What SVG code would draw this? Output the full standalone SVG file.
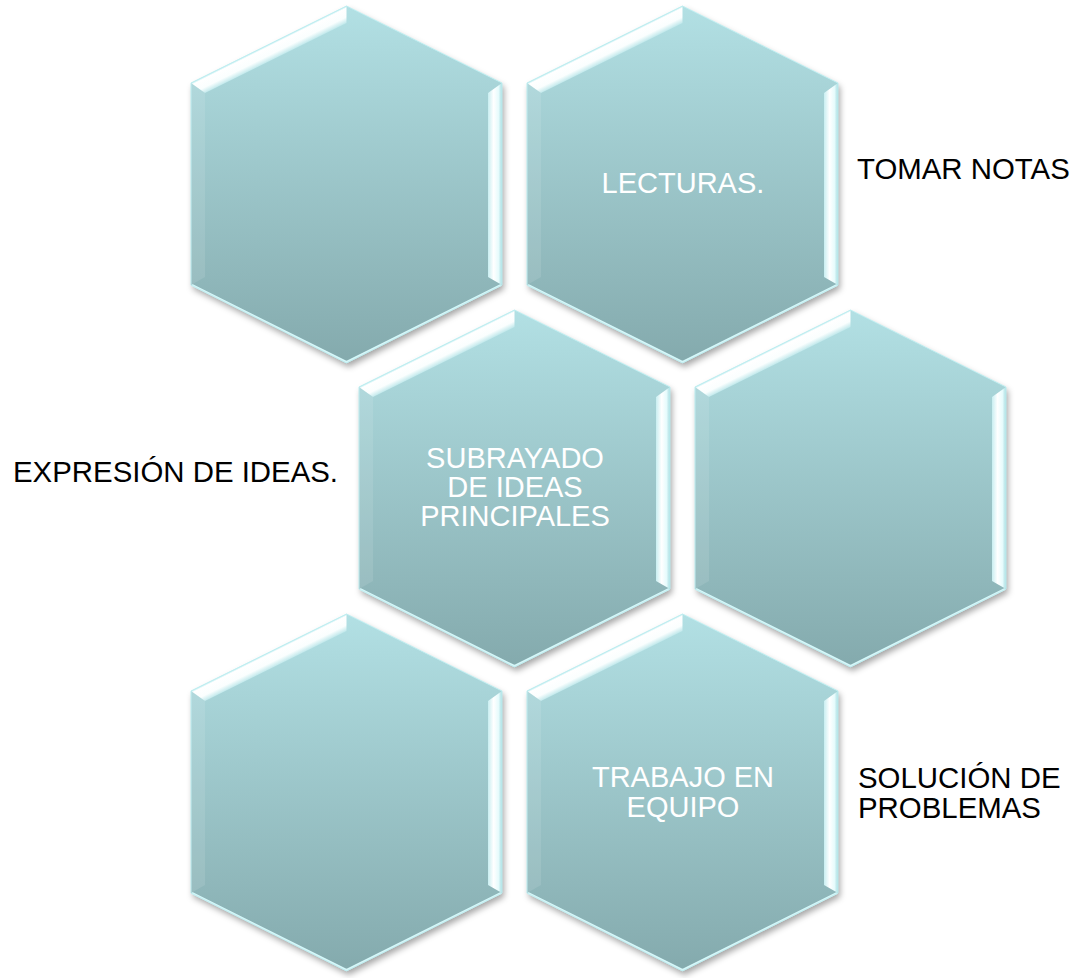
<svg xmlns="http://www.w3.org/2000/svg" xmlns:xlink="http://www.w3.org/1999/xlink" width="1077" height="978" viewBox="0 0 1077 978">
<defs>
<style>
.in{font-family:"Liberation Sans",Arial,sans-serif;font-size:29px;fill:#ffffff;text-anchor:middle}
.out{font-family:"Liberation Sans",Arial,sans-serif;font-size:29.4px;fill:#000000}
</style>
<linearGradient id="fillG" x1="0" y1="0" x2="0" y2="1">
<stop offset="0" stop-color="#b2e0e4"/>
<stop offset="1" stop-color="#84aaad"/>
</linearGradient>
<linearGradient id="tlG" gradientUnits="userSpaceOnUse" x1="-77.75" y1="38.5" x2="-71" y2="52.1">
<stop offset="0" stop-color="#bfeef1"/>
<stop offset="0.12" stop-color="#ffffff"/>
<stop offset="0.65" stop-color="#fafefe"/>
<stop offset="1" stop-color="#c2e9ec"/>
</linearGradient>
<linearGradient id="rG" gradientUnits="userSpaceOnUse" x1="141.5" y1="0" x2="155.5" y2="0">
<stop offset="0" stop-color="#c8eef1"/>
<stop offset="0.4" stop-color="#ffffff"/>
<stop offset="0.75" stop-color="#e6fbfc"/>
<stop offset="1" stop-color="#a9dde1"/>
</linearGradient>
<filter id="sh" x="-10%" y="-10%" width="125%" height="125%">
<feDropShadow dx="2" dy="4" stdDeviation="3" flood-color="#000" flood-opacity="0.35"/>
</filter>
<g id="hex">
<polygon points="0,0 155.5,77 155.5,279 0,357 -155.5,279 -155.5,77" fill="url(#fillG)" filter="url(#sh)"/>
<polygon points="-155.5,77 -141.5,87 -141.5,271 -155.5,279" fill="#ffffff" opacity="0.1"/>
<polygon points="0,0 -155.5,77 -141.5,87 0,17" fill="url(#tlG)"/>
<polygon points="155.5,77 155.5,279 141.5,271 141.5,87" fill="url(#rG)"/>
<polyline points="-154.5,279 0,356 154.5,279" fill="none" stroke="#d6f7f9" stroke-width="2"/>
<polygon points="0,0 155.5,77 155.5,279 0,357 -155.5,279 -155.5,77" fill="none" stroke="#bfeef1" stroke-width="1"/>
</g>
</defs>
<rect width="1077" height="978" fill="#ffffff"/>
<g id="node1"><use xlink:href="#hex" transform="translate(346.5,6)"/></g>
<g id="node2"><use xlink:href="#hex" transform="translate(682.5,6)"/>
<text class="in" x="683" y="193">LECTURAS.</text></g>
<g id="node3"><use xlink:href="#hex" transform="translate(514.5,310)"/>
<text class="in" x="515" y="468">SUBRAYADO</text>
<text class="in" x="515" y="497">DE IDEAS</text>
<text class="in" x="515" y="526">PRINCIPALES</text></g>
<g id="node4"><use xlink:href="#hex" transform="translate(850.5,310)"/></g>
<g id="node5"><use xlink:href="#hex" transform="translate(346.5,614)"/></g>
<g id="node6"><use xlink:href="#hex" transform="translate(682.5,614)"/>
<text class="in" x="683" y="787">TRABAJO EN</text>
<text class="in" x="683" y="817">EQUIPO</text></g>
<g id="connectors"></g>
<g id="labels">
<text class="out" x="857" y="179">TOMAR NOTAS</text>
<text class="out" x="13" y="482">EXPRESIÓN DE IDEAS.</text>
<text class="out" x="858" y="788">SOLUCIÓN DE</text>
<text class="out" x="858" y="818">PROBLEMAS</text>
</g>
</svg>
